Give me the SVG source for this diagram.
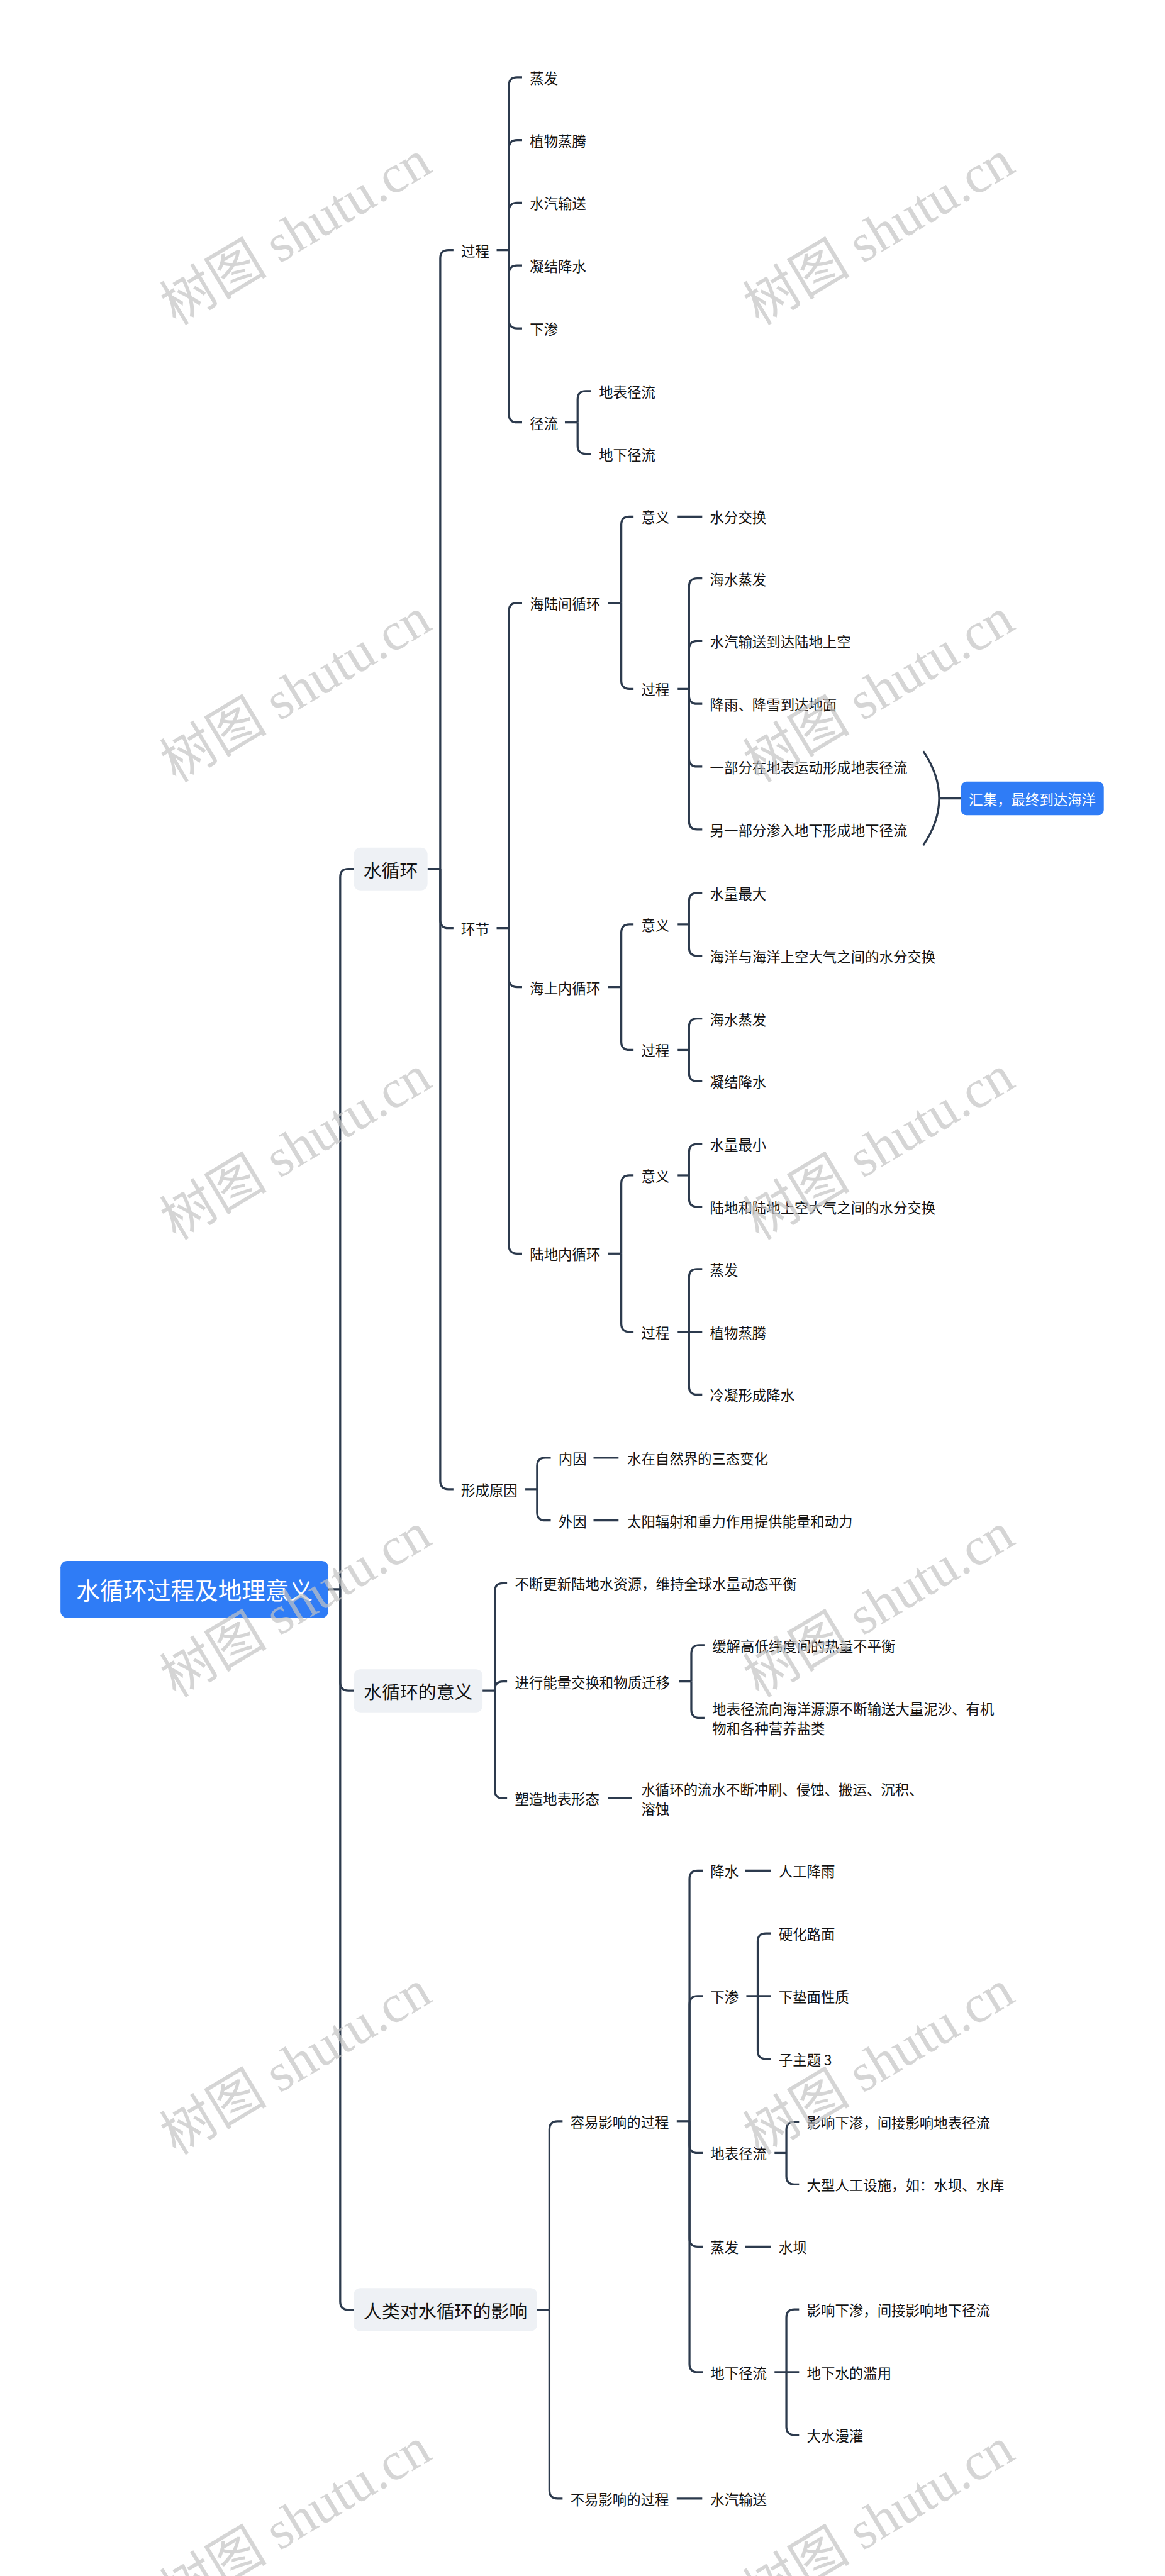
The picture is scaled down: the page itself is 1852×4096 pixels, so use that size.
<svg xmlns="http://www.w3.org/2000/svg" width="1852" height="4096" viewBox="0 0 1852 4096">
<style>
.t{font-family:"Noto Sans CJK SC","Noto Sans",sans-serif;font-size:31px;fill:#141414;dominant-baseline:central}
.m{font-family:"Noto Sans CJK SC","Noto Sans",sans-serif;font-size:40px;fill:#141414;dominant-baseline:central;text-anchor:middle}
.r{font-family:"Noto Sans CJK SC","Noto Sans",sans-serif;font-size:52px;fill:#ffffff;dominant-baseline:central;text-anchor:middle}
.s{font-family:"Noto Sans CJK SC","Noto Sans",sans-serif;font-size:31px;fill:#ffffff;dominant-baseline:central;text-anchor:middle}
.box{fill:#eef1f5}
.blue{fill:#2f7cf6}
.c path{fill:none;stroke:#2c3a4d;stroke-width:4.5;stroke-linecap:butt}
.w{font-family:"Liberation Serif","Noto Sans CJK SC",serif;font-size:118px;fill:#c4c4c4;opacity:0.7;text-anchor:middle;dominant-baseline:central}
</style>
<rect width="1852" height="4096" fill="#ffffff"/>
<g transform="scale(0.723)">
<g class="c" id="connectors">
<path d="M722,3495 H748"/>
<path d="M748,3495 V1929 Q748,1911 766,1911 H778"/>
<path d="M748,3495 V3700 Q748,3718 766,3718 H778"/>
<path d="M748,3495 V5062 Q748,5080 766,5080 H778"/>
<path d="M940,1911 H968"/>
<path d="M968,1911 V568 Q968,550 986,550 H997"/>
<path d="M968,1911 V2023 Q968,2041 986,2041 H997"/>
<path d="M968,1911 V3257 Q968,3275 986,3275 H997"/>
<path d="M1092,550 H1119"/>
<path d="M1119,550 V188 Q1119,170 1137,170 H1148"/>
<path d="M1119,550 V326 Q1119,308 1137,308 H1148"/>
<path d="M1119,550 V464 Q1119,446 1137,446 H1148"/>
<path d="M1119,550 V602 Q1119,584 1137,584 H1148"/>
<path d="M1119,550 V704 Q1119,722 1137,722 H1148"/>
<path d="M1119,550 V911 Q1119,929 1137,929 H1148"/>
<path d="M1242,929 H1270"/>
<path d="M1270,929 V878 Q1270,860 1288,860 H1300"/>
<path d="M1270,929 V980 Q1270,998 1288,998 H1300"/>
<path d="M1092,2041 H1119"/>
<path d="M1119,2041 V1344 Q1119,1326 1137,1326 H1148"/>
<path d="M1119,2041 V2153 Q1119,2171 1137,2171 H1148"/>
<path d="M1119,2041 V2739 Q1119,2757 1137,2757 H1148"/>
<path d="M1337,1326 H1366"/>
<path d="M1366,1326 V1154 Q1366,1136 1384,1136 H1393"/>
<path d="M1366,1326 V1497 Q1366,1515 1384,1515 H1393"/>
<path d="M1490,1136 H1544"/>
<path d="M1490,1515 H1515"/>
<path d="M1515,1515 V1290 Q1515,1272 1533,1272 H1544"/>
<path d="M1515,1515 V1428 Q1515,1410 1533,1410 H1544"/>
<path d="M1515,1515 V1530 Q1515,1548 1533,1548 H1544"/>
<path d="M1515,1515 V1668 Q1515,1686 1533,1686 H1544"/>
<path d="M1515,1515 V1806 Q1515,1824 1533,1824 H1544"/>
<path d="M2030,1652 Q2100,1756 2030,1859"/>
<path d="M2065,1756 H2113"/>
<path d="M1337,2171 H1366"/>
<path d="M1366,2171 V2051 Q1366,2033 1384,2033 H1393"/>
<path d="M1366,2171 V2291 Q1366,2309 1384,2309 H1393"/>
<path d="M1490,2033 H1515"/>
<path d="M1515,2033 V1982 Q1515,1964 1533,1964 H1544"/>
<path d="M1515,2033 V2084 Q1515,2102 1533,2102 H1544"/>
<path d="M1490,2309 H1515"/>
<path d="M1515,2309 V2258 Q1515,2240 1533,2240 H1544"/>
<path d="M1515,2309 V2360 Q1515,2378 1533,2378 H1544"/>
<path d="M1337,2757 H1366"/>
<path d="M1366,2757 V2603 Q1366,2585 1384,2585 H1393"/>
<path d="M1366,2757 V2911 Q1366,2929 1384,2929 H1393"/>
<path d="M1490,2585 H1515"/>
<path d="M1515,2585 V2534 Q1515,2516 1533,2516 H1544"/>
<path d="M1515,2585 V2636 Q1515,2654 1533,2654 H1544"/>
<path d="M1490,2929 H1544"/>
<path d="M1515,2929 V2809 Q1515,2791 1533,2791 H1544"/>
<path d="M1515,2929 V3049 Q1515,3067 1533,3067 H1544"/>
<path d="M1155,3275 H1181"/>
<path d="M1181,3275 V3224 Q1181,3206 1199,3206 H1211"/>
<path d="M1181,3275 V3326 Q1181,3344 1199,3344 H1211"/>
<path d="M1305,3206 H1360"/>
<path d="M1305,3344 H1360"/>
<path d="M1061,3718 H1088"/>
<path d="M1088,3718 V3500 Q1088,3482 1106,3482 H1115"/>
<path d="M1088,3718 V3716 Q1088,3698 1106,3698 H1115"/>
<path d="M1088,3718 V3937 Q1088,3955 1106,3955 H1115"/>
<path d="M1493,3698 H1520"/>
<path d="M1520,3698 V3636 Q1520,3618 1538,3618 H1549"/>
<path d="M1520,3698 V3760 Q1520,3778 1538,3778 H1549"/>
<path d="M1337,3955 H1390"/>
<path d="M1181,5080 H1208"/>
<path d="M1208,5080 V4683 Q1208,4665 1226,4665 H1237"/>
<path d="M1208,5080 V5477 Q1208,5495 1226,5495 H1237"/>
<path d="M1488,4665 H1516"/>
<path d="M1516,4665 V4132 Q1516,4114 1534,4114 H1545"/>
<path d="M1516,4665 V4408 Q1516,4390 1534,4390 H1545"/>
<path d="M1516,4665 V4717 Q1516,4735 1534,4735 H1545"/>
<path d="M1516,4665 V4923 Q1516,4941 1534,4941 H1545"/>
<path d="M1516,4665 V5199 Q1516,5217 1534,5217 H1545"/>
<path d="M1639,4114 H1695"/>
<path d="M1641,4390 H1695"/>
<path d="M1666,4390 V4270 Q1666,4252 1684,4252 H1695"/>
<path d="M1666,4390 V4510 Q1666,4528 1684,4528 H1695"/>
<path d="M1703,4735 H1729"/>
<path d="M1729,4735 V4684 Q1729,4666 1747,4666 H1757"/>
<path d="M1729,4735 V4786 Q1729,4804 1747,4804 H1757"/>
<path d="M1639,4941 H1695"/>
<path d="M1703,5217 H1757"/>
<path d="M1729,5217 V5097 Q1729,5079 1747,5079 H1757"/>
<path d="M1729,5217 V5337 Q1729,5355 1747,5355 H1757"/>
<path d="M1488,5495 H1544"/>
</g>
<g id="root"><rect class="blue" x="133" y="3433" width="589" height="125" rx="14"/><text class="r" x="427.5" y="3495">水循环过程及地理意义</text></g>
<g id="n-shuixunhuan"><rect class="box" x="778" y="1864" width="162" height="94" rx="14"/><text class="m" x="859" y="1911">水循环</text></g>
<g id="n-yiyi"><rect class="box" x="778" y="3671" width="283" height="95" rx="14"/><text class="m" x="919.5" y="3718">水循环的意义</text></g>
<g id="n-renlei"><rect class="box" x="778" y="5032" width="403" height="95" rx="14"/><text class="m" x="979.5" y="5080">人类对水循环的影响</text></g>
<g id="n-guocheng"><text class="t" x="1014" y="550">过程</text></g>
<g id="n-gc1"><text class="t" x="1165" y="170">蒸发</text></g>
<g id="n-gc2"><text class="t" x="1165" y="308">植物蒸腾</text></g>
<g id="n-gc3"><text class="t" x="1165" y="446">水汽输送</text></g>
<g id="n-gc4"><text class="t" x="1165" y="584">凝结降水</text></g>
<g id="n-gc5"><text class="t" x="1165" y="722">下渗</text></g>
<g id="n-gc6"><text class="t" x="1165" y="929">径流</text></g>
<g id="n-gc6a"><text class="t" x="1317" y="860">地表径流</text></g>
<g id="n-gc6b"><text class="t" x="1317" y="998">地下径流</text></g>
<g id="n-huanjie"><text class="t" x="1014" y="2041">环节</text></g>
<g id="n-hlj"><text class="t" x="1165" y="1326">海陆间循环</text></g>
<g id="n-hlj-yy"><text class="t" x="1410" y="1136">意义</text></g>
<g id="n-hlj-yy1"><text class="t" x="1561" y="1136">水分交换</text></g>
<g id="n-hlj-gc"><text class="t" x="1410" y="1515">过程</text></g>
<g id="n-hlj-gc1"><text class="t" x="1561" y="1272">海水蒸发</text></g>
<g id="n-hlj-gc2"><text class="t" x="1561" y="1410">水汽输送到达陆地上空</text></g>
<g id="n-hlj-gc3"><text class="t" x="1561" y="1548">降雨、降雪到达地面</text></g>
<g id="n-hlj-gc4"><text class="t" x="1561" y="1686">一部分在地表运动形成地表径流</text></g>
<g id="n-hlj-gc5"><text class="t" x="1561" y="1824">另一部分渗入地下形成地下径流</text></g>
<g id="n-summary"><rect class="blue" x="2113" y="1719" width="314" height="74" rx="12"/><text class="s" x="2270" y="1756">汇集，最终到达海洋</text></g>
<g id="n-hsn"><text class="t" x="1165" y="2171">海上内循环</text></g>
<g id="n-hsn-yy"><text class="t" x="1410" y="2033">意义</text></g>
<g id="n-hsn-yy1"><text class="t" x="1561" y="1964">水量最大</text></g>
<g id="n-hsn-yy2"><text class="t" x="1561" y="2102">海洋与海洋上空大气之间的水分交换</text></g>
<g id="n-hsn-gc"><text class="t" x="1410" y="2309">过程</text></g>
<g id="n-hsn-gc1"><text class="t" x="1561" y="2240">海水蒸发</text></g>
<g id="n-hsn-gc2"><text class="t" x="1561" y="2378">凝结降水</text></g>
<g id="n-ldn"><text class="t" x="1165" y="2757">陆地内循环</text></g>
<g id="n-ldn-yy"><text class="t" x="1410" y="2585">意义</text></g>
<g id="n-ldn-yy1"><text class="t" x="1561" y="2516">水量最小</text></g>
<g id="n-ldn-yy2"><text class="t" x="1561" y="2654">陆地和陆地上空大气之间的水分交换</text></g>
<g id="n-ldn-gc"><text class="t" x="1410" y="2929">过程</text></g>
<g id="n-ldn-gc1"><text class="t" x="1561" y="2791">蒸发</text></g>
<g id="n-ldn-gc2"><text class="t" x="1561" y="2929">植物蒸腾</text></g>
<g id="n-ldn-gc3"><text class="t" x="1561" y="3067">冷凝形成降水</text></g>
<g id="n-xcyy"><text class="t" x="1014" y="3275">形成原因</text></g>
<g id="n-ny"><text class="t" x="1228" y="3206">内因</text></g>
<g id="n-ny1"><text class="t" x="1379" y="3206">水在自然界的三态变化</text></g>
<g id="n-wy"><text class="t" x="1228" y="3344">外因</text></g>
<g id="n-wy1"><text class="t" x="1379" y="3344">太阳辐射和重力作用提供能量和动力</text></g>
<g id="n-yy1"><text class="t" x="1132" y="3482">不断更新陆地水资源，维持全球水量动态平衡</text></g>
<g id="n-yy2"><text class="t" x="1132" y="3698">进行能量交换和物质迁移</text></g>
<g id="n-yy2a"><text class="t" x="1566" y="3618">缓解高低纬度间的热量不平衡</text></g>
<g id="n-yy2b"><text class="t" x="1566" y="3757">地表径流向海洋源源不断输送大量泥沙、有机</text><text class="t" x="1566" y="3799">物和各种营养盐类</text></g>
<g id="n-yy3"><text class="t" x="1132" y="3955">塑造地表形态</text></g>
<g id="n-yy3a"><text class="t" x="1410" y="3934">水循环的流水不断冲刷、侵蚀、搬运、沉积、</text><text class="t" x="1410" y="3976">溶蚀</text></g>
<g id="n-ry"><text class="t" x="1254" y="4665">容易影响的过程</text></g>
<g id="n-ry1"><text class="t" x="1562" y="4114">降水</text></g>
<g id="n-ry1a"><text class="t" x="1712" y="4114">人工降雨</text></g>
<g id="n-ry2"><text class="t" x="1562" y="4390">下渗</text></g>
<g id="n-ry2a"><text class="t" x="1712" y="4252">硬化路面</text></g>
<g id="n-ry2b"><text class="t" x="1712" y="4390">下垫面性质</text></g>
<g id="n-ry2c"><text class="t" x="1712" y="4528">子主题 3</text></g>
<g id="n-ry3"><text class="t" x="1562" y="4735">地表径流</text></g>
<g id="n-ry3a"><text class="t" x="1774" y="4666">影响下渗，间接影响地表径流</text></g>
<g id="n-ry3b"><text class="t" x="1774" y="4804">大型人工设施，如：水坝、水库</text></g>
<g id="n-ry4"><text class="t" x="1562" y="4941">蒸发</text></g>
<g id="n-ry4a"><text class="t" x="1712" y="4941">水坝</text></g>
<g id="n-ry5"><text class="t" x="1562" y="5217">地下径流</text></g>
<g id="n-ry5a"><text class="t" x="1774" y="5079">影响下渗，间接影响地下径流</text></g>
<g id="n-ry5b"><text class="t" x="1774" y="5217">地下水的滥用</text></g>
<g id="n-ry5c"><text class="t" x="1774" y="5355">大水漫灌</text></g>
<g id="n-by"><text class="t" x="1254" y="5495">不易影响的过程</text></g>
<g id="n-by1"><text class="t" x="1562" y="5495">水汽输送</text></g>
<g id="watermarks">
<text class="w" transform="translate(650,512) rotate(-31)">树图 shutu.cn</text>
<text class="w" transform="translate(1932,512) rotate(-31)">树图 shutu.cn</text>
<text class="w" transform="translate(650,1518) rotate(-31)">树图 shutu.cn</text>
<text class="w" transform="translate(1932,1518) rotate(-31)">树图 shutu.cn</text>
<text class="w" transform="translate(650,2524) rotate(-31)">树图 shutu.cn</text>
<text class="w" transform="translate(1932,2524) rotate(-31)">树图 shutu.cn</text>
<text class="w" transform="translate(650,3530) rotate(-31)">树图 shutu.cn</text>
<text class="w" transform="translate(1932,3530) rotate(-31)">树图 shutu.cn</text>
<text class="w" transform="translate(650,4536) rotate(-31)">树图 shutu.cn</text>
<text class="w" transform="translate(1932,4536) rotate(-31)">树图 shutu.cn</text>
<text class="w" transform="translate(650,5542) rotate(-31)">树图 shutu.cn</text>
<text class="w" transform="translate(1932,5542) rotate(-31)">树图 shutu.cn</text>
</g>
</g>
</svg>
